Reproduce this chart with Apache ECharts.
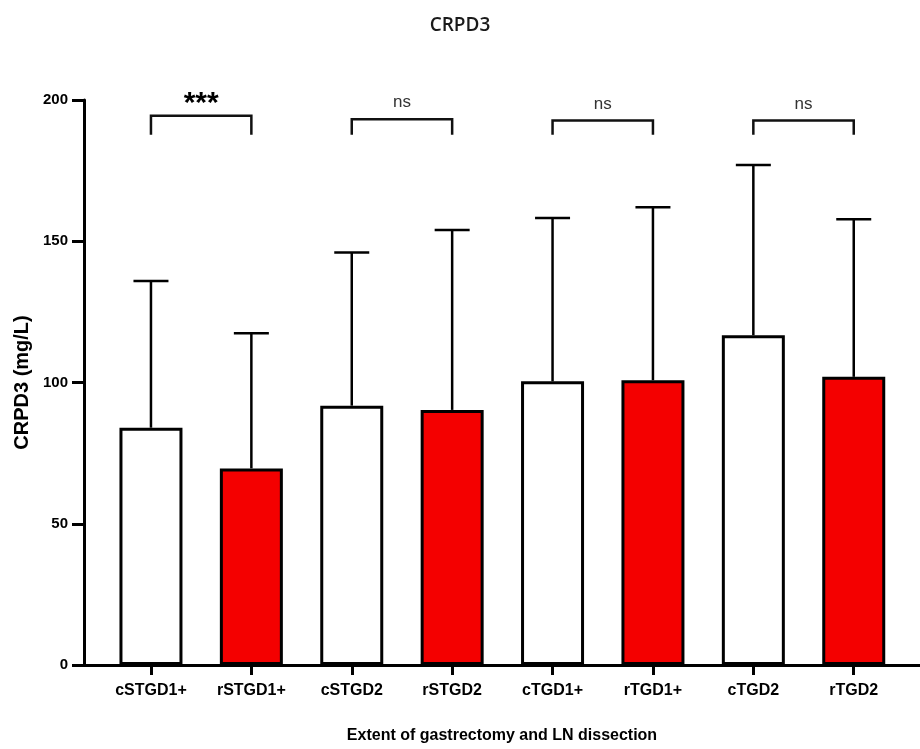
<!DOCTYPE html>
<html>
<head>
<meta charset="utf-8">
<title>CRPD3</title>
<script src="https://cdn.jsdelivr.net/npm/echarts@6/dist/echarts.min.js"></script>
<style>
  html, body { margin: 0; padding: 0; background: #fff; }
  #chart { width: 920px; height: 749px; }
</style>
</head>
<body>
<div id="chart"></div>
<script>
// groups on the x axis
const categories = ['cSTGD1+', 'rSTGD1+', 'cSTGD2', 'rSTGD2', 'cTGD1+', 'rTGD1+', 'cTGD2', 'rTGD2'];
// mean CRPD3 (mg/L)
const means = [84, 69.6, 91.8, 90.3, 100.4, 100.8, 116.7, 102];
// upper end of the error bar (mean + SD)
const upper = [135.9, 117.4, 146, 154, 158.2, 162, 177, 157.8];
// comparisons between pairs
const pairStart = [0, 2, 4, 6];
const pairEnd = [1, 3, 5, 7];
const pairLabel = ['***', 'ns', 'ns', 'ns'];
const bracketTop = [194.4, 193.2, 192.7, 192.7];
const bracketLeg = [187.7, 187.7, 187.7, 187.7];

const tickValues = categories.map((c, i) => i);
const fillColors = ['#ffffff', '#f40000'];

const myChart = echarts.init(document.getElementById('chart'));

const option = {
    backgroundColor: '#fff',
    animation: false,
    title: {
        text: 'CRPD3',
        left: 'center',
        top: 11,
        textStyle: { fontFamily: 'Open Sans', fontSize: 19, fontWeight: 600, color: '#1a1a1a' }
    },
    grid: { left: 84, right: 0, top: 100, bottom: 79 },
    xAxis: {
        type: 'value',
        min: -0.667,
        max: 7.66,
        name: 'Extent of gastrectomy and LN dissection',
        nameLocation: 'middle',
        nameGap: 63,
        nameTextStyle: { fontFamily: 'Liberation Sans', fontWeight: 'bold', fontSize: 16, color: '#000' },
        axisLine: { show: true, lineStyle: { color: '#000', width: 3 } },
        axisTick: { show: true, customValues: tickValues, length: 10, lineStyle: { color: '#000', width: 3 } },
        axisLabel: {
            customValues: tickValues,
            formatter: v => categories[Math.round(v)] || '',
            margin: 18,
            fontFamily: 'Liberation Sans', fontWeight: 'bold', fontSize: 16, color: '#000'
        },
        splitLine: { show: false }
    },
    yAxis: {
        type: 'value',
        min: 0,
        max: 200,
        interval: 50,
        name: 'CRPD3 (mg/L)',
        nameLocation: 'middle',
        nameGap: 52,
        nameTextStyle: { fontFamily: 'Liberation Sans', fontWeight: 'bold', fontSize: 20, color: '#000' },
        axisLine: { show: true, onZero: false, lineStyle: { color: '#000', width: 3 } },
        axisTick: { show: true, length: 12, lineStyle: { color: '#000', width: 3 } },
        axisLabel: { margin: 16, fontFamily: 'Liberation Sans', fontWeight: 'bold', fontSize: 15, color: '#000' },
        splitLine: { show: false }
    },
    series: [
        {
            // error bars, drawn under the bars
            type: 'custom',
            z: 1,
            data: means.map((m, i) => [i, m, upper[i]]),
            renderItem: function (params, api) {
                const base = api.coord([api.value(0), api.value(1)]);
                const top = api.coord([api.value(0), api.value(2)]);
                const style = { stroke: '#000', lineWidth: 2.5 };
                return {
                    type: 'group',
                    children: [
                        { type: 'line', shape: { x1: base[0], y1: base[1], x2: top[0], y2: top[1] }, style: style },
                        { type: 'line', shape: { x1: top[0] - 17.5, y1: top[1], x2: top[0] + 17.5, y2: top[1] }, style: style }
                    ]
                };
            }
        },
        {
            type: 'bar',
            z: 2,
            barWidth: 63,
            data: means.map((m, i) => ({
                value: [i, m],
                itemStyle: { color: fillColors[i % 2], borderColor: '#000', borderWidth: 3 }
            }))
        },
        {
            // significance brackets
            type: 'custom',
            z: 3,
            data: pairStart.map((s, i) => [s, pairEnd[i], bracketTop[i], bracketLeg[i]]),
            renderItem: function (params, api) {
                const a = api.coord([api.value(0), api.value(2)]);
                const b = api.coord([api.value(1), api.value(2)]);
                const leg = api.coord([api.value(0), api.value(3)]);
                const label = pairLabel[params.dataIndex];
                const star = label.indexOf('*') >= 0;
                return {
                    type: 'group',
                    children: [
                        {
                            type: 'polyline',
                            shape: { points: [[a[0], leg[1]], [a[0], a[1]], [b[0], b[1]], [b[0], leg[1]]] },
                            style: { stroke: '#111', lineWidth: 2.5, fill: null }
                        },
                        {
                            type: 'text',
                            style: {
                                text: label,
                                x: (a[0] + b[0]) / 2,
                                // stars sit lower in their em box than ns
                                y: a[1] + (star ? 3 : -8),
                                align: 'center',
                                verticalAlign: 'bottom',
                                fontFamily: 'Liberation Sans',
                                fontWeight: star ? 'bold' : 'normal',
                                fontSize: star ? 30 : 17,
                                fill: star ? '#000' : '#333'
                            }
                        }
                    ]
                };
            }
        }
    ]
};

myChart.setOption(option);
</script>
</body>
</html>
